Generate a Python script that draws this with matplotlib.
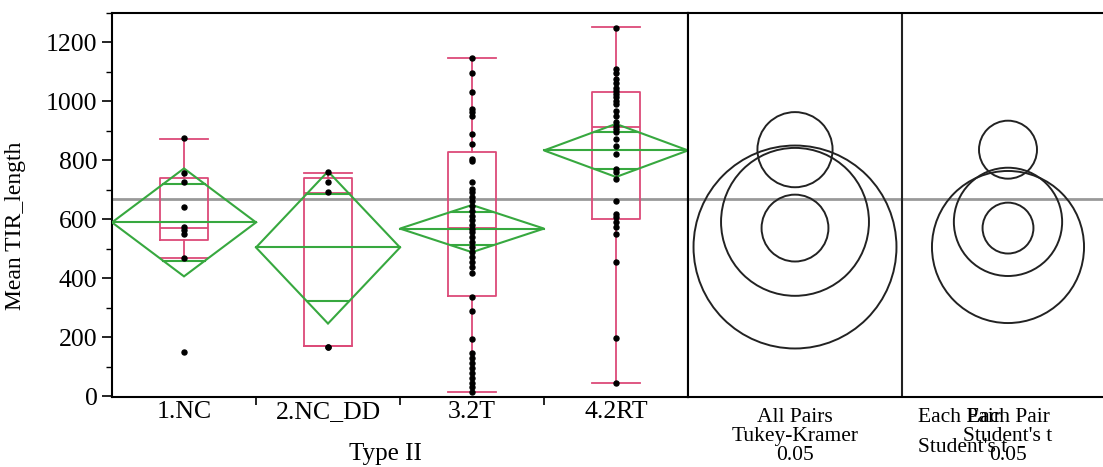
import numpy as np
import matplotlib.pyplot as plt
from matplotlib.patches import Polygon, Ellipse

plt.rcParams['font.family'] = ['Liberation Serif', 'DejaVu Serif']

# data
groups = ['1.NC', '2.NC_DD', '3.2T', '4.2RT']

pts_nc = [875, 758, 726, 642, 574, 563, 552, 469, 152]
pts_ncdd = [760, 726, 692, 168, 168]
pts_2t = [1149, 1098, 1031, 974, 963, 952, 890, 856, 805, 799, 726, 704, 692,
          676, 664, 647, 630, 613, 597, 580, 568, 557, 540, 523, 506, 490,
          473, 456, 439, 419, 337, 290, 193, 146, 129, 112, 95, 78, 61, 44,
          31, 16]
pts_2rt = [1250, 1109, 1098, 1076, 1064, 1047, 1036, 1025, 1014, 1002, 991,
           969, 952, 929, 918, 907, 895, 873, 850, 822, 771, 760, 738, 664,
           619, 608, 591, 574, 552, 456, 197, 44]
points = [pts_nc, pts_ncdd, pts_2t, pts_2rt]

# box plot stats
q1 = [532, 171, 340, 603]
med = [570, 690, 570, 914]
q3 = [739, 742, 830, 1033]
whis_lo = [468, 171, 15, 46]
whis_hi = [874, 758, 1148, 1251]

# means diamonds
means = [590, 505, 569, 834]
ci_half = [183, 258, 80, 90]
grand_mean = 668

# comparison circles radii
tukey_r = [250, 343, 113, 127]
student_r = [183, 257, 86, 98]

GREEN = '#37a83f'
PINK = '#dc4a78'
W, H = 1103, 467
ylim = (-2, 1296)

fig = plt.figure(figsize=(W / 100, H / 100), dpi=100)
ax = fig.add_axes([112 / W, (H - 397) / H, 576 / W, 384 / H])
ax2 = fig.add_axes([688 / W, (H - 397) / H, 415 / W, 384 / H])

x = np.arange(len(groups))

# boxes
stats = []
for i in range(len(groups)):
    stats.append(dict(med=med[i], q1=q1[i], q3=q3[i], whislo=whis_lo[i],
                      whishi=whis_hi[i], fliers=[]))
ax.bxp(stats, positions=x, widths=0.34, capwidths=0.33, showfliers=False,
       boxprops=dict(color=PINK, lw=1.3), whiskerprops=dict(color=PINK, lw=1.3),
       capprops=dict(color=PINK, lw=1.3), medianprops=dict(color=PINK, lw=1.3),
       manage_ticks=False)

# grand mean line
ax.axhline(grand_mean, color='#999999', lw=2, zorder=1)
ax2.axhline(grand_mean, color='#999999', lw=2, zorder=1)

# mean diamonds
for i in range(len(groups)):
    m, c = means[i], ci_half[i]
    ax.add_patch(Polygon([(i - 0.5, m), (i, m + c), (i + 0.5, m), (i, m - c)],
                         closed=True, fill=False, ec=GREEN, lw=1.5, zorder=3))
    ax.plot([i - 0.5, i + 0.5], [m, m], color=GREEN, lw=1.5, zorder=3)
    d = c / np.sqrt(2)
    hw = 0.5 * (1 - d / c)
    for s in (1, -1):
        ax.plot([i - hw, i + hw], [m + s * d, m + s * d], color=GREEN, lw=1.5, zorder=3)

# points
for i, p in enumerate(points):
    ax.plot(np.full(len(p), x[i]), p, 'o', color='black', ms=3.6, zorder=4)

ax.set_xlim(-0.5, 3.5)
ax.set_ylim(*ylim)
ax.set_xticks([0.5, 1.5, 2.5])
ax.set_xticklabels([])
ax.set_xticks(x, minor=True)
ax.set_xticklabels(groups, minor=True)
ax.tick_params(axis='x', which='major', length=6, width=1.2, direction='out')
ax.tick_params(axis='x', which='minor', length=0, labelsize=18.5, pad=3)
ax.set_yticks(np.arange(0, 1201, 200))
ax.set_yticks(np.arange(0, 1301, 100), minor=True)
ax.tick_params(axis='y', which='major', length=7, width=1.2, labelsize=18.5)
ax.tick_params(axis='y', which='minor', length=4, width=1)
ax.set_xlabel('Type II', fontsize=18, labelpad=12)
ax.xaxis.set_label_coords(0.475, -0.12)
ax.set_ylabel('Mean TIR_length', fontsize=17)
ax.yaxis.set_label_coords(-0.15, 0.445)
for sp in ax.spines.values():
    sp.set_linewidth(1.5)

# comparison circles panel
ax2.set_xlim(0, 415)
ax2.set_ylim(*ylim)
sx = 384 / (ylim[1] - ylim[0])
for cx, radii in ((107, tukey_r), (320, student_r)):
    for m, r in zip(means, radii):
        ax2.add_patch(Ellipse((cx, m), 2 * r * sx, 2 * r, fill=False,
                              ec='#222222', lw=1.4))
ax2.axvline(214, color='#222222', lw=1.5)
ax2.set_xticks([])
ax2.set_yticks([])
ax2.spines['right'].set_visible(False)
for sp in ax2.spines.values():
    sp.set_linewidth(1.5)

ax2.text(107, -38, 'All Pairs\nTukey-Kramer\n0.05', ha='center', va='top',
         fontsize=15.5, linespacing=1.0)
ax2.text(230, -38, 'Each Pair\n\nStudent\'s t', ha='left', va='top',
         fontsize=15.5, linespacing=0.72)
ax2.text(320, -38, 'Each Pair\nStudent\'s t\n0.05', ha='center', va='top',
         fontsize=15.5, linespacing=1.0)

fig.savefig('out.png', dpi=100)
